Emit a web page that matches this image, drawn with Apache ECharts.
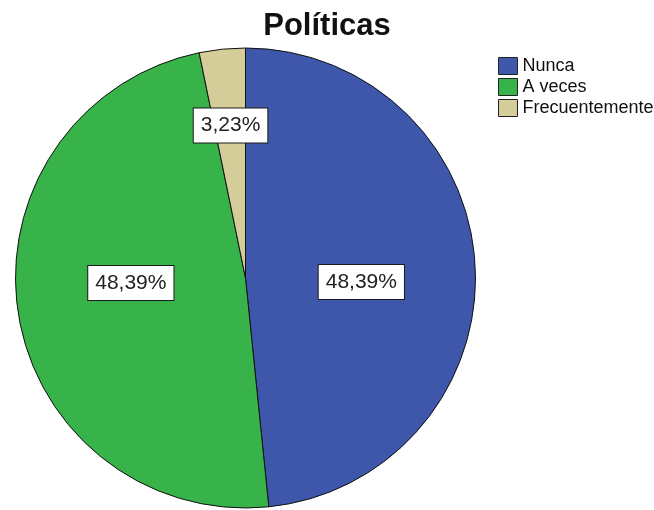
<!DOCTYPE html>
<html>
<head>
<meta charset="utf-8">
<title>Políticas</title>
<script src="https://cdn.jsdelivr.net/npm/echarts@6/dist/echarts.min.js"></script>
<style>
  html, body { margin: 0; padding: 0; background: #ffffff; }
  #chart { width: 654px; height: 510px; }
</style>
</head>
<body>
<div id="chart"></div>
<script>
// Response categories and their share of answers (percent)
const categories = ['Nunca', 'A veces', 'Frecuentemente'];
const percentages = [48.39, 48.39, 3.23];
const chartTitle = 'Políticas';

const sliceColors = ['#3e57ab', '#37b349', '#d5cd99'];
// nudges for the inside labels so they sit where the boxes are wanted
const labelNudges = [[-2, 10], [2, -13], [-3, -35]];

const fontFamily = '"Liberation Sans", Arial, Helvetica, sans-serif';

const pieData = categories.map((name, i) => ({
  name: name,
  value: percentages[i],
  itemStyle: { color: sliceColors[i] },
  label: { offset: labelNudges[i] }
}));

const chart = echarts.init(document.getElementById('chart'), null, { renderer: 'canvas' });

chart.setOption({
  animation: false,
  backgroundColor: '#ffffff',
  title: {
    text: chartTitle,
    left: 'center',
    top: 6,
    textStyle: {
      fontFamily: fontFamily,
      fontSize: 31,
      fontWeight: 'bold',
      color: '#111111'
    }
  },
  legend: {
    orient: 'vertical',
    left: 493,
    top: 52,
    itemWidth: 19,
    itemHeight: 17,
    itemGap: 3,
    icon: 'rect',
    selectedMode: false,
    itemStyle: { borderColor: '#222222', borderWidth: 1 },
    textStyle: {
      fontFamily: fontFamily,
      fontSize: 18,
      lineHeight: 18,
      color: '#111111'
    },
    data: categories
  },
  series: [{
    type: 'pie',
    center: [245.5, 278],
    radius: 230,
    startAngle: 90,
    clockwise: true,
    silent: true,
    itemStyle: { borderColor: '#111111', borderWidth: 1 },
    label: {
      show: true,
      position: 'inside',
      formatter: p => p.value.toFixed(2).replace('.', ',') + '%',
      fontFamily: fontFamily,
      fontSize: 21,
      lineHeight: 23,
      color: '#222222',
      backgroundColor: '#ffffff',
      borderColor: '#1a1a1a',
      borderWidth: 1,
      padding: [6, 7, 5, 7]
    },
    labelLine: { show: false },
    data: pieData
  }]
});
</script>
</body>
</html>
